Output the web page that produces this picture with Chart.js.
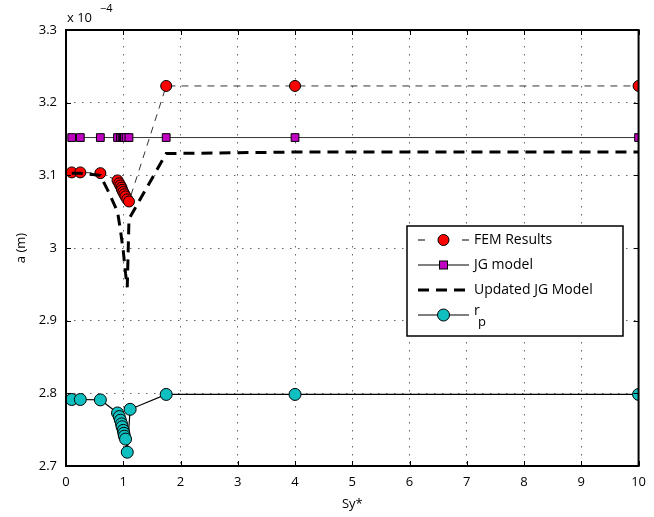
<!DOCTYPE html>
<html>
<head>
<meta charset="utf-8">
<script src="https://cdn.jsdelivr.net/npm/chart.js@4"></script>
<style>
  html, body { margin: 0; padding: 0; background: #fff; }
  #wrap { position: relative; width: 654px; height: 517px; }
</style>
</head>
<body>
<div id="wrap"><canvas id="chart" width="654" height="517"></canvas></div>
<script>
// values of a in units of 1e-4 m
const femX = [0.1, 0.25, 0.6, 0.9, 0.93, 0.95, 0.97, 0.98, 1.0, 1.02, 1.04, 1.07, 1.1, 1.75, 4, 10];
const femY = [3.104, 3.104, 3.103, 3.093, 3.089, 3.086, 3.083, 3.080, 3.077, 3.074, 3.071, 3.067, 3.064, 3.223, 3.223, 3.223];

const jgX = [0.1, 0.25, 0.6, 0.9, 0.95, 0.98, 1.0, 1.02, 1.05, 1.1, 1.75, 4, 10];
const jgY = [3.152, 3.152, 3.152, 3.152, 3.152, 3.152, 3.152, 3.152, 3.152, 3.152, 3.152, 3.152, 3.152];

const updX = [0.1, 0.25, 0.6, 0.75, 0.9, 0.95, 1.0, 1.04, 1.07, 1.1, 1.75, 4, 10];
const updY = [3.103, 3.103, 3.1, 3.076, 3.05, 3.025, 2.996, 2.965, 2.946, 3.04, 3.13, 3.132, 3.132];

const rpX = [0.1, 0.25, 0.6, 0.9, 0.93, 0.95, 0.97, 0.98, 1.0, 1.01, 1.02, 1.04, 1.07, 1.12, 1.75, 4, 10];
const rpY = [2.7915, 2.7915, 2.791, 2.773, 2.768, 2.763, 2.758, 2.754, 2.749, 2.745, 2.741, 2.737, 2.719, 2.778, 2.7985, 2.7985, 2.7985];

const xTicks = [0, 1, 2, 3, 4, 5, 6, 7, 8, 9, 10];
const yTicks = [2.7, 2.8, 2.9, 3, 3.1, 3.2, 3.3];

const FONT = 'Open Sans';

const pts = (xs, ys) => xs.map((x, i) => ({ x: x, y: ys[i] }));

// legend drawn inside the axes, MATLAB style
const boxLegend = {
  id: 'boxLegend',
  afterDraw(chart) {
    const ctx = chart.ctx;
    const x0 = 407, y0 = 226, w = 216, h = 110;
    ctx.save();
    ctx.fillStyle = '#fff';
    ctx.fillRect(x0, y0, w, h);
    ctx.strokeStyle = '#000';
    ctx.lineWidth = 1.5;
    ctx.strokeRect(x0, y0, w, h);
    const rows = [
      { label: 'FEM Results', dash: [], lw: 1, pt: 'circle', fill: '#ff0000', r: 5.5, split: true },
      { label: 'JG model', dash: [], lw: 1, pt: 'rect', fill: '#c000c0', r: 4 },
      { label: 'Updated JG Model', dash: [11, 7], lw: 3, pt: null },
      { label: 'r', sub: 'p', dash: [], lw: 1.2, pt: 'circle', fill: '#10c0c0', r: 6 }
    ];
    const lx1 = 418, lx2 = 469;
    rows.forEach((r, i) => {
      const yy = y0 + 14 + i * 25;
      ctx.strokeStyle = '#000';
      ctx.lineWidth = r.lw;
      ctx.setLineDash(r.dash);
      ctx.beginPath();
      if (r.split) {
        ctx.moveTo(lx1, yy); ctx.lineTo(lx1 + 7, yy);
        ctx.moveTo(lx2 - 7, yy); ctx.lineTo(lx2, yy);
      } else {
        ctx.moveTo(lx1, yy); ctx.lineTo(lx2, yy);
      }
      ctx.stroke();
      ctx.setLineDash([]);
      const cx = (lx1 + lx2) / 2;
      if (r.pt === 'circle') {
        ctx.beginPath();
        ctx.arc(cx, yy, r.r, 0, Math.PI * 2);
        ctx.fillStyle = r.fill; ctx.fill();
        ctx.lineWidth = 1; ctx.stroke();
      } else if (r.pt === 'rect') {
        ctx.fillStyle = r.fill;
        ctx.fillRect(cx - r.r, yy - r.r, r.r * 2, r.r * 2);
        ctx.lineWidth = 1;
        ctx.strokeRect(cx - r.r, yy - r.r, r.r * 2, r.r * 2);
      }
      ctx.fillStyle = '#000';
      ctx.font = '14px "' + FONT + '"';
      ctx.textBaseline = 'middle';
      ctx.textAlign = 'left';
      ctx.fillText(r.label, lx2 + 5, yy - (r.sub ? 4 : 0));
      if (r.sub) {
        ctx.font = '13px "' + FONT + '"';
        ctx.fillText(r.sub, lx2 + 9, yy + 7);
      }
    });
    ctx.restore();
  }
};

// exponent label and box with inward ticks
const axesExtras = {
  id: 'axesExtras',
  afterDraw(chart) {
    const ctx = chart.ctx;
    const a = chart.chartArea;
    const sx = chart.scales.x, sy = chart.scales.y;
    ctx.save();
    ctx.strokeStyle = '#000';
    ctx.lineWidth = 2;
    ctx.strokeRect(a.left, a.top, a.right - a.left, a.bottom - a.top);
    ctx.lineWidth = 1;
    xTicks.forEach(t => {
      const px = Math.round(sx.getPixelForValue(t)) + 0.5;
      ctx.beginPath();
      ctx.moveTo(px, a.bottom); ctx.lineTo(px, a.bottom - 5);
      ctx.moveTo(px, a.top); ctx.lineTo(px, a.top + 5);
      ctx.stroke();
    });
    yTicks.forEach(t => {
      const py = Math.round(sy.getPixelForValue(t)) + 0.5;
      ctx.beginPath();
      ctx.moveTo(a.left, py); ctx.lineTo(a.left + 5, py);
      ctx.moveTo(a.right, py); ctx.lineTo(a.right - 5, py);
      ctx.stroke();
    });
    ctx.fillStyle = '#000';
    ctx.font = '13px "' + FONT + '"';
    ctx.textBaseline = 'alphabetic';
    ctx.textAlign = 'left';
    ctx.fillText('x 10', a.left + 1, a.top - 8);
    ctx.font = '11px "' + FONT + '"';
    ctx.fillText('\u22124', a.left + 34, a.top - 18);
    ctx.restore();
  }
};

new Chart(document.getElementById('chart'), {
  type: 'scatter',
  data: {
    datasets: [
      {
        label: 'FEM Results',
        data: pts(femX, femY),
        showLine: true,
        borderColor: '#000',
        borderWidth: 0.8,
        borderDash: [7, 6],
        pointStyle: 'circle',
        pointRadius: 5.5,
        pointBackgroundColor: '#ff0000',
        pointBorderColor: '#000',
        pointBorderWidth: 1,
        order: 3
      },
      {
        label: 'JG model',
        data: pts(jgX, jgY),
        showLine: true,
        borderColor: '#000',
        borderWidth: 0.8,
        pointStyle: 'rect',
        pointRadius: 5.5,
        pointBackgroundColor: '#c000c0',
        pointBorderColor: '#000',
        pointBorderWidth: 1,
        order: 2
      },
      {
        label: 'Updated JG Model',
        data: pts(updX, updY),
        showLine: true,
        borderColor: '#000',
        borderWidth: 3,
        borderDash: [11, 7],
        pointRadius: 0,
        order: 1
      },
      {
        label: 'r_p',
        data: pts(rpX, rpY),
        showLine: true,
        borderColor: '#000',
        borderWidth: 1.2,
        pointStyle: 'circle',
        pointRadius: 6,
        pointBackgroundColor: '#10c0c0',
        pointBorderColor: '#000',
        pointBorderWidth: 1,
        order: 0
      }
    ]
  },
  options: {
    responsive: false,
    animation: false,
    layout: { padding: { top: 30, right: 7, left: 0, bottom: 0 } },
    plugins: { legend: { display: false }, tooltip: { enabled: false } },
    scales: {
      x: {
        type: 'linear',
        min: 0, max: 10,
        afterBuildTicks: s => { s.ticks = xTicks.map(v => ({ value: v })); },
        afterFit: s => { s.height = 51; },
        grid: { color: '#666', drawTicks: false, lineWidth: 1 },
        border: { display: false, dash: [1.5, 6.5] },
        ticks: { padding: 8, color: '#000', font: { family: FONT, size: 13 }, maxRotation: 0 },
        title: { display: true, text: 'Sy*', color: '#000', padding: { top: 0, bottom: 5 }, font: { family: FONT, size: 13 } }
      },
      y: {
        type: 'linear',
        min: 2.7, max: 3.3,
        afterBuildTicks: s => { s.ticks = yTicks.map(v => ({ value: v })); },
        afterFit: s => { s.width = 66; },
        grid: { color: '#666', drawTicks: false, lineWidth: 1 },
        border: { display: false, dash: [1.5, 6.5] },
        ticks: { padding: 9, color: '#000', font: { family: FONT, size: 13 }, callback: v => String(Math.round(v * 10) / 10) },
        title: { display: true, text: 'a (m)', color: '#000', padding: { top: 13, bottom: 0 }, font: { family: FONT, size: 13 } }
      }
    }
  },
  plugins: [axesExtras, boxLegend]
});
</script>
</body>
</html>
